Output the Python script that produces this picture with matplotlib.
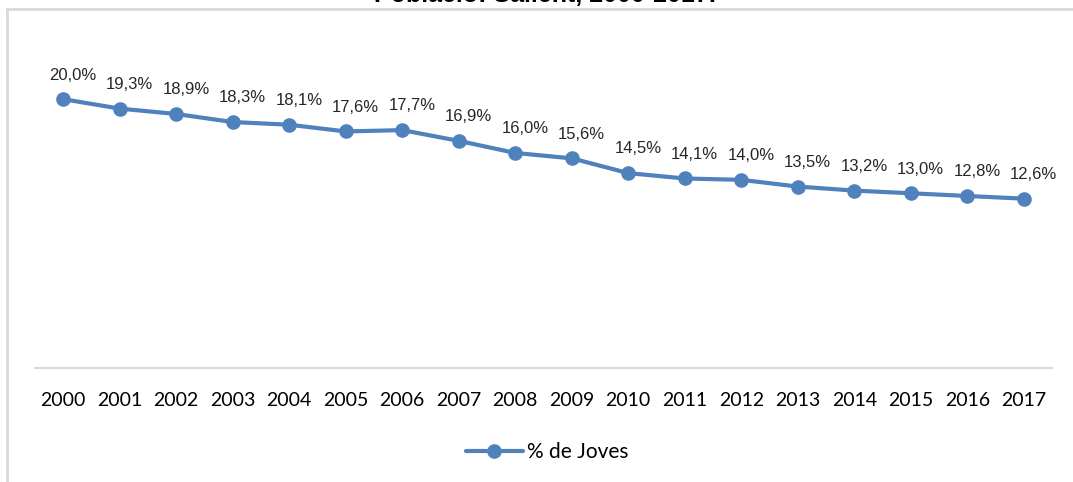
import matplotlib
matplotlib.use("Agg")
import matplotlib.pyplot as plt
from matplotlib.lines import Line2D

anys = ["2000", "2001", "2002", "2003", "2004", "2005", "2006", "2007", "2008",
        "2009", "2010", "2011", "2012", "2013", "2014", "2015", "2016", "2017"]
joves = [20.0, 19.3, 18.9, 18.3, 18.1, 17.6, 17.7, 16.9, 16.0,
         15.6, 14.5, 14.1, 14.0, 13.5, 13.2, 13.0, 12.8, 12.6]
etiquetes = [f"{v:.1f}%".replace(".", ",") for v in joves]

color = "#4F81BD"

fig = plt.figure(figsize=(10.73, 4.82), dpi=100)
ax = fig.add_axes([35 / 1073, 1 - 368 / 482, 1017 / 1073, 336 / 482])

x = list(range(len(anys)))
ax.plot(x, joves, color=color, linewidth=3, marker="o", markersize=9.5,
        label="% de Joves", solid_capstyle="round")

for xi, yi, t in zip(x, joves, etiquetes):
    ax.annotate(t, (xi, yi), xytext=(7, 12), textcoords="offset points",
                ha="center", va="bottom", fontsize=12,
                family="Liberation Sans", color="#262626")

ax.set_xlim(-0.5, len(anys) - 0.5)
ax.set_ylim(0, 25)
ax.set_xticks(x)
ax.set_xticklabels(anys, family="Lato", fontsize=14)
ax.set_yticks([])
ax.tick_params(axis="x", length=0, pad=17)
for s in ["top", "right", "left"]:
    ax.spines[s].set_visible(False)
ax.spines["bottom"].set_color("#D9D9D9")
ax.spines["bottom"].set_linewidth(1.5)

fig.legend(loc="center", bbox_to_anchor=(0.51, 30 / 482), frameon=False,
           handlelength=2.7, prop={"family": "Lato", "size": 15},
           handletextpad=0.2)

# marc del gràfic (retallat)
fig.add_artist(Line2D([7 / 1073, 7 / 1073], [0, 1 - 9 / 482],
                      color="#D9D9D9", linewidth=2))
fig.add_artist(Line2D([7 / 1073, 1], [1 - 9 / 482, 1 - 9 / 482],
                      color="#D9D9D9", linewidth=2))

# títol tallat a la part superior
fig.text(0.508, 1 - 2 / 482, "Població: Sallent, 2000-2017.", ha="center",
         va="baseline", fontsize=18, fontweight="bold", family="Liberation Sans")

fig.savefig("out.png", dpi=100)
